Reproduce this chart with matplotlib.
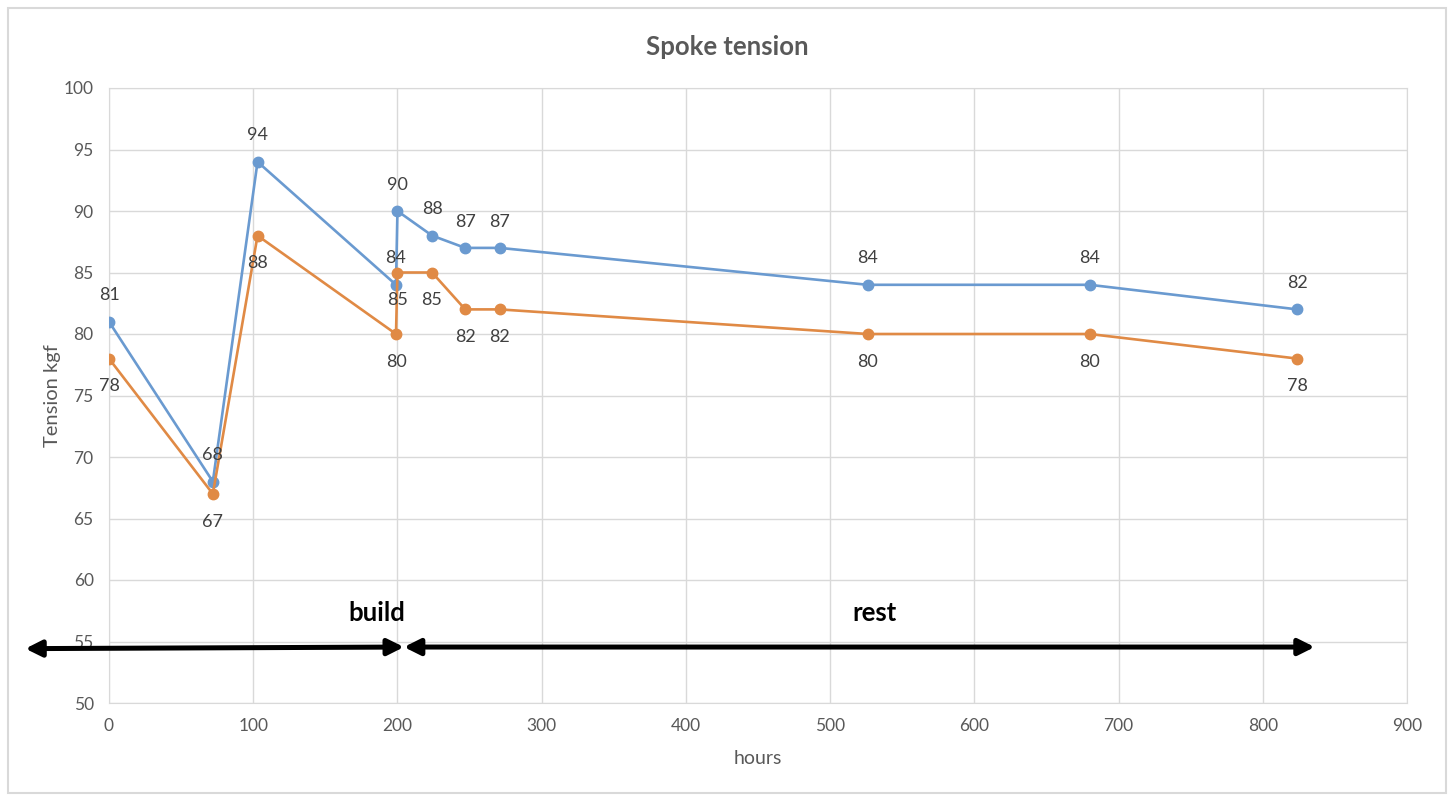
import matplotlib.pyplot as plt
from matplotlib.patches import Rectangle

# data
hours = [0, 72, 103, 199, 200, 224, 247, 271, 526, 680, 824]
tension_a = [81, 68, 94, 84, 90, 88, 87, 87, 84, 84, 82]
tension_b = [78, 67, 88, 80, 85, 85, 82, 82, 80, 80, 78]

# phase arrows (hours) and labels
build_span = (-58, 204.5)
rest_span = (204.5, 836)
phase_labels = ['build', 'rest']
phase_label_x = [186, 531]

plt.rcParams['font.family'] = ['Lato', 'DejaVu Sans']

fig = plt.figure(figsize=(14.56, 8.02), dpi=100)
ax = fig.add_axes([109 / 1456, 1 - 703 / 802, 1298 / 1456, 615 / 802])

blue = '#6A9AD0'
orange = '#E08A45'
ax.plot(hours, tension_a, color=blue, lw=1.9, marker='o', ms=7.5, zorder=3)
ax.plot(hours, tension_b, color=orange, lw=1.9, marker='o', ms=7.5, zorder=3)

for x, y in zip(hours, tension_a):
    ax.annotate(str(y), (x, y), xytext=(0, 19), textcoords='offset points',
                ha='center', va='center', fontsize=13, color='#404040')
for x, y in zip(hours, tension_b):
    ax.annotate(str(y), (x, y), xytext=(0, -20), textcoords='offset points',
                ha='center', va='center', fontsize=13, color='#404040')

ax.set_xlim(0, 900)
ax.set_ylim(50, 100)
ax.set_xticks(range(0, 901, 100))
ax.set_yticks(range(50, 101, 5))
ax.grid(True, color='#D9D9D9', lw=1)
ax.set_axisbelow(True)
for s in ax.spines.values():
    s.set_color('#D9D9D9')
ax.tick_params(length=0, labelsize=12.5, colors='#595959', pad=11)
ax.set_xlabel('hours', fontsize=14, color='#595959', labelpad=11)
ax.set_ylabel('Tension kgf', fontsize=14.5, color='#595959', labelpad=2)
fig.text(727 / 1456, 1 - 47 / 802, 'Spoke tension', ha='center', va='center',
         fontsize=18.5, fontweight='bold', color='#595959')

# phase arrows
arrow_style = dict(arrowstyle='<|-|>', color='black', lw=3.6,
                   mutation_scale=24, shrinkA=0, shrinkB=0)
ax.annotate('', xy=(build_span[1], 54.55), xytext=(build_span[0], 54.42),
            arrowprops=arrow_style, annotation_clip=False)
ax.annotate('', xy=(rest_span[1], 54.55), xytext=(rest_span[0], 54.55),
            arrowprops=arrow_style, annotation_clip=False)
for lab, x in zip(phase_labels, phase_label_x):
    ax.text(x, 57.3, lab, ha='center', va='center', fontsize=18.5,
            fontweight='bold', color='black')

# outer chart border
fig.patches.append(Rectangle((8 / 1456, 1 - 793 / 802), 1438 / 1456, 785 / 802,
                             transform=fig.transFigure, fill=False,
                             edgecolor='#D9D9D9', lw=1.5))

fig.savefig('out.png', dpi=100)
